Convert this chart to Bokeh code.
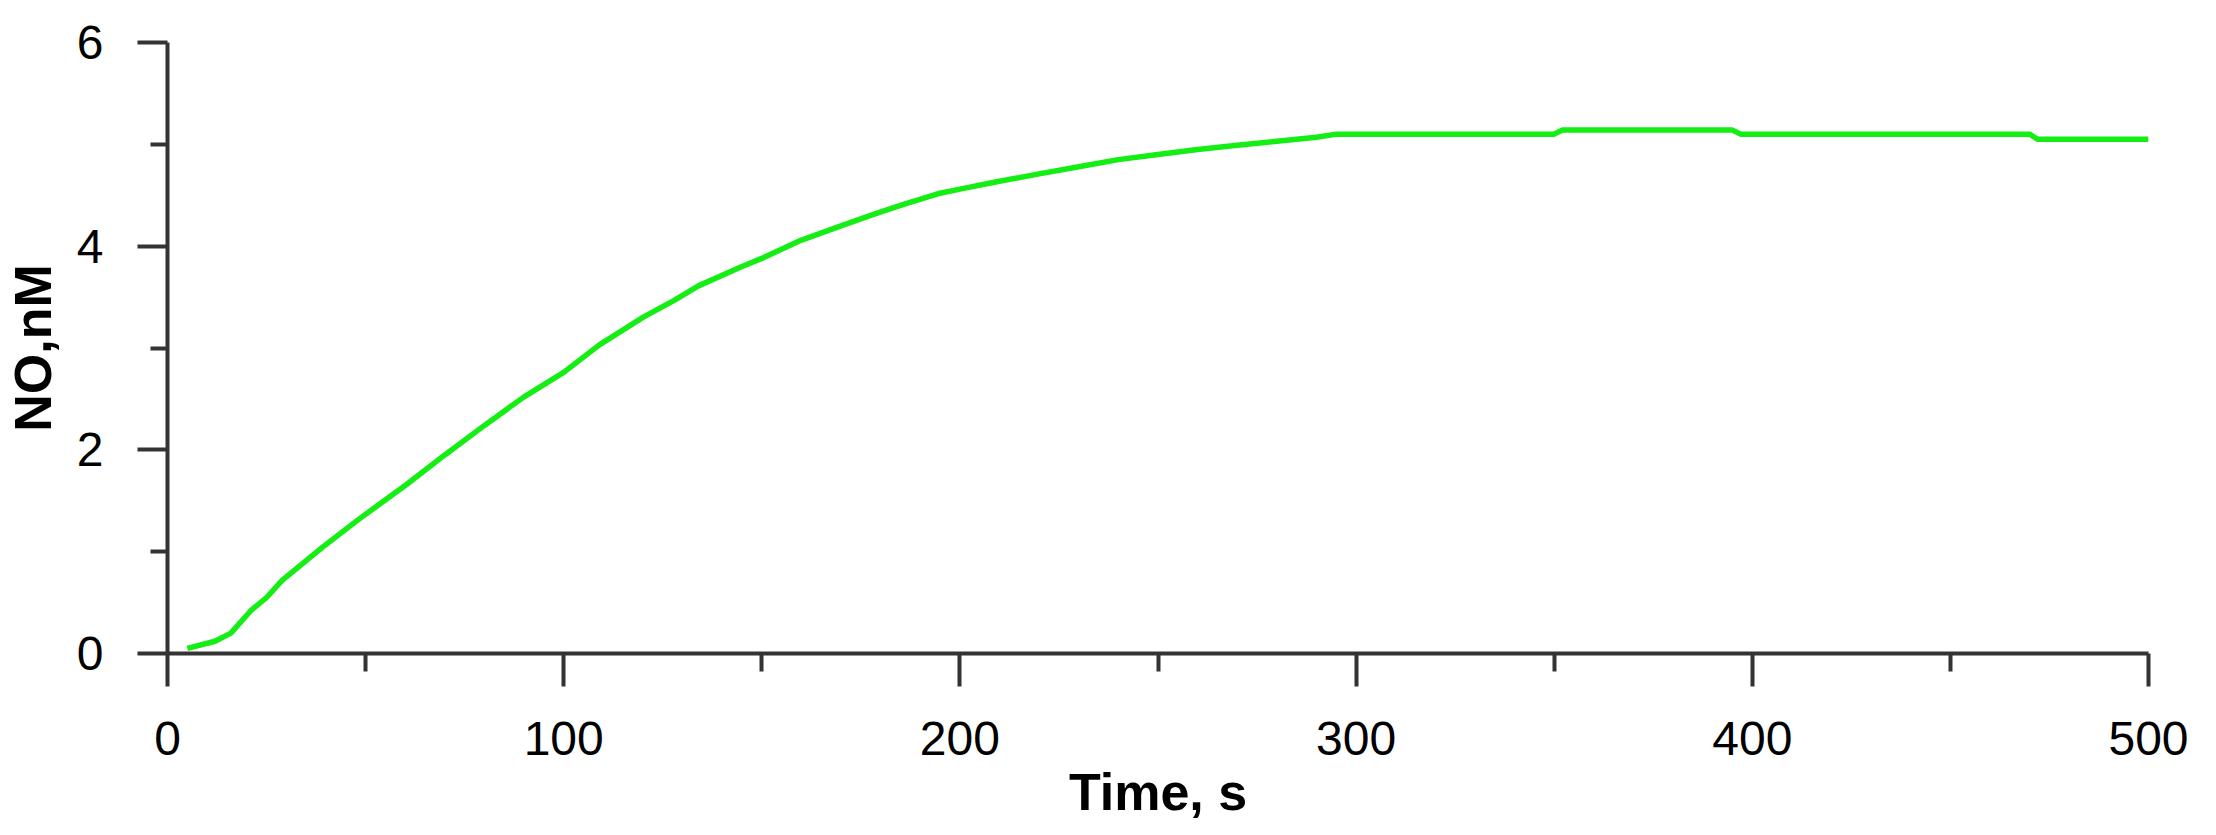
from bokeh.plotting import figure
from bokeh.models import Range1d, FixedTicker
from bokeh.embed import file_html
from bokeh.resources import INLINE

# Data (time in s, NO in nM)
time_s = [5, 12, 16, 21, 25, 29, 34, 39, 48, 54, 60, 70, 80, 90, 100, 109, 120, 128, 134,
          145, 150, 160, 170, 178, 185, 195, 200, 209, 220, 230, 240, 250, 260, 270, 280,
          290, 295, 350, 352, 395, 397, 470, 472, 500]
no_nM = [0.05, 0.12, 0.20, 0.42, 0.55, 0.72, 0.88, 1.04, 1.31, 1.48, 1.65, 1.95, 2.24, 2.52,
         2.76, 3.03, 3.30, 3.47, 3.61, 3.80, 3.88, 4.06, 4.20, 4.31, 4.40, 4.52, 4.56, 4.63,
         4.71, 4.78, 4.85, 4.90, 4.95, 4.99, 5.03, 5.07, 5.10, 5.10, 5.14, 5.14, 5.10, 5.10,
         5.05, 5.05]

x_major = [0, 100, 200, 300, 400, 500]
x_minor = [50, 150, 250, 350, 450]
y_major = [0, 2, 4, 6]
y_minor = [1, 3, 5]

p = figure(width=2200, height=823, output_backend="svg", toolbar_location=None,
           x_range=Range1d(0, 500), y_range=Range1d(0, 6),
           min_border_left=167, min_border_right=52, min_border_top=42, min_border_bottom=157)
p.outline_line_color = None
p.xgrid.visible = False
p.ygrid.visible = False
p.background_fill_color = "white"
p.border_fill_color = "white"

p.line(time_s, no_nM, line_color="#14ee14", line_width=5.5)

axis_col = "#333333"
for ax in (p.xaxis[0], p.yaxis[0]):
    ax.axis_line_color = axis_col
    ax.axis_line_width = 4
    ax.major_tick_line_color = axis_col
    ax.major_tick_line_width = 4
    ax.minor_tick_line_color = axis_col
    ax.minor_tick_line_width = 4
    ax.major_tick_in = 0
    ax.minor_tick_in = 0
    ax.major_label_text_font = "Liberation Sans"
    ax.major_label_text_font_size = "48px"
    ax.major_label_text_color = "black"
    ax.axis_label_text_font = "Liberation Sans"
    ax.axis_label_text_font_size = "52px"
    ax.axis_label_text_font_style = "bold"
    ax.axis_label_text_color = "black"

p.xaxis[0].ticker = FixedTicker(ticks=x_major, minor_ticks=x_minor)
p.yaxis[0].ticker = FixedTicker(ticks=y_major, minor_ticks=y_minor)
p.xaxis[0].major_tick_out = 33
p.xaxis[0].minor_tick_out = 18
p.yaxis[0].major_tick_out = 30
p.yaxis[0].minor_tick_out = 17
p.xaxis[0].major_label_standoff = 35
p.yaxis[0].major_label_standoff = 34
p.xaxis[0].axis_label = "Time, s"
p.yaxis[0].axis_label = "NO,nM"
p.xaxis[0].axis_label_standoff = 5
p.yaxis[0].axis_label_standoff = 12

open("out.html", "w").write(file_html(p, INLINE))
